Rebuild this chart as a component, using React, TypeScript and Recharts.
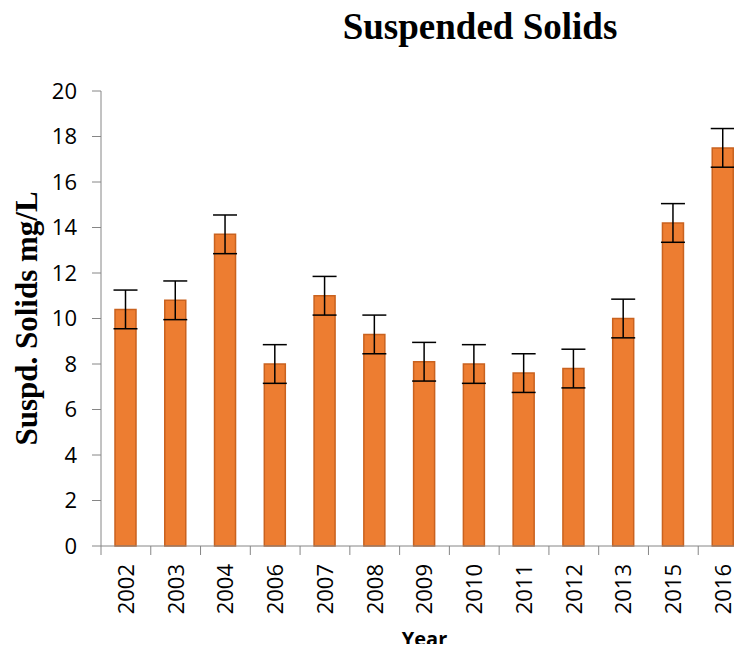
import React from 'react'
import { BarChart, Bar, XAxis, YAxis, ErrorBar, Label } from 'recharts'

const years = ['2002', '2003', '2004', '2006', '2007', '2008', '2009', '2010', '2011', '2012', '2013', '2015', '2016']
const solids = [10.4, 10.8, 13.7, 8.0, 11.0, 9.3, 8.1, 8.0, 7.6, 7.8, 10.0, 14.2, 17.5]
const errors = [0.85, 0.85, 0.85, 0.85, 0.85, 0.85, 0.85, 0.85, 0.85, 0.85, 0.85, 0.85, 0.85]
const yTicks = [0, 2, 4, 6, 8, 10, 12, 14, 16, 18, 20]

const chartData = years.map((year, i) => ({ year, value: solids[i], err: errors[i] }))

const CHART_W = 750
const CHART_H = 652
const MARGIN = { top: 91, right: 2, left: 0, bottom: 0 }
const Y_AXIS_W = 101
const HALF_BAND = (CHART_W - MARGIN.left - MARGIN.right - Y_AXIS_W) / years.length / 2
const AXIS_GREY = '#868686'
const SANS = '"Open Sans", "Liberation Sans", sans-serif'
const SERIF = '"Liberation Serif", "Times New Roman", serif'

const YearTick = ({ x, y, payload }: any) => (
  <g>
    <line x1={x - HALF_BAND} y1={y} x2={x - HALF_BAND} y2={y + 9} stroke={AXIS_GREY} strokeWidth={1} />
    <text
      x={0}
      y={0}
      dy="0.36em"
      textAnchor="end"
      transform={`translate(${x}, ${y + 18}) rotate(-90)`}
      fontSize={22}
      fontFamily={SANS}
      fill="#000"
    >
      {payload.value}
    </text>
  </g>
)

const YTitle = ({ viewBox }: any) => {
  const cx = 26
  const cy = viewBox.y + viewBox.height / 2
  return (
    <text
      x={0}
      y={0}
      textAnchor="middle"
      dominantBaseline="central"
      transform={`translate(${cx}, ${cy}) rotate(-90)`}
      fontSize={31}
      fontWeight="bold"
      fontFamily={SERIF}
      fill="#000"
    >
      Suspd. Solids mg/L
    </text>
  )
}

const XTitle = ({ viewBox }: any) => (
  <text
    x={viewBox.x + viewBox.width / 2}
    y={viewBox.y + viewBox.height - 6}
    textAnchor="middle"
    fontSize={20}
    fontWeight="bold"
    fontFamily={SANS}
    fill="#000"
  >
    Year
  </text>
)

export default function App() {
  return (
    <div style={{ margin: -8, width: 742, height: 652, overflow: 'hidden', position: 'relative', background: '#fff' }}>
      <div
        style={{
          position: 'absolute',
          left: 320,
          top: 6,
          width: 320,
          textAlign: 'center',
          fontFamily: SERIF,
          fontWeight: 'bold',
          fontSize: 37,
          lineHeight: '42px',
          whiteSpace: 'nowrap',
          color: '#000',
        }}
      >
        Suspended Solids
      </div>
      <BarChart width={CHART_W} height={CHART_H} data={chartData} margin={MARGIN}>
        <XAxis
          dataKey="year"
          height={106}
          tick={<YearTick />}
          tickLine={false}
          tickSize={0}
          tickMargin={0}
          interval={0}
          axisLine={{ stroke: AXIS_GREY, strokeWidth: 1 }}
        >
          <Label content={<XTitle />} />
        </XAxis>
        <YAxis
          width={Y_AXIS_W}
          domain={[0, 20]}
          ticks={yTicks}
          interval={0}
          tickSize={9}
          tickMargin={15}
          tick={{ fontSize: 22, fontFamily: SANS, fill: '#000' }}
          tickLine={{ stroke: AXIS_GREY }}
          axisLine={{ stroke: AXIS_GREY, strokeWidth: 1 }}
        >
          <Label content={<YTitle />} />
        </YAxis>
        <Bar dataKey="value" barSize={21} fill="#ED7D31" stroke="#C9621F" strokeWidth={1.5} isAnimationActive={false}>
          <ErrorBar dataKey="err" direction="y" width={12} stroke="#000" strokeWidth={1.5} isAnimationActive={false} />
        </Bar>
      </BarChart>
    </div>
  )
}
